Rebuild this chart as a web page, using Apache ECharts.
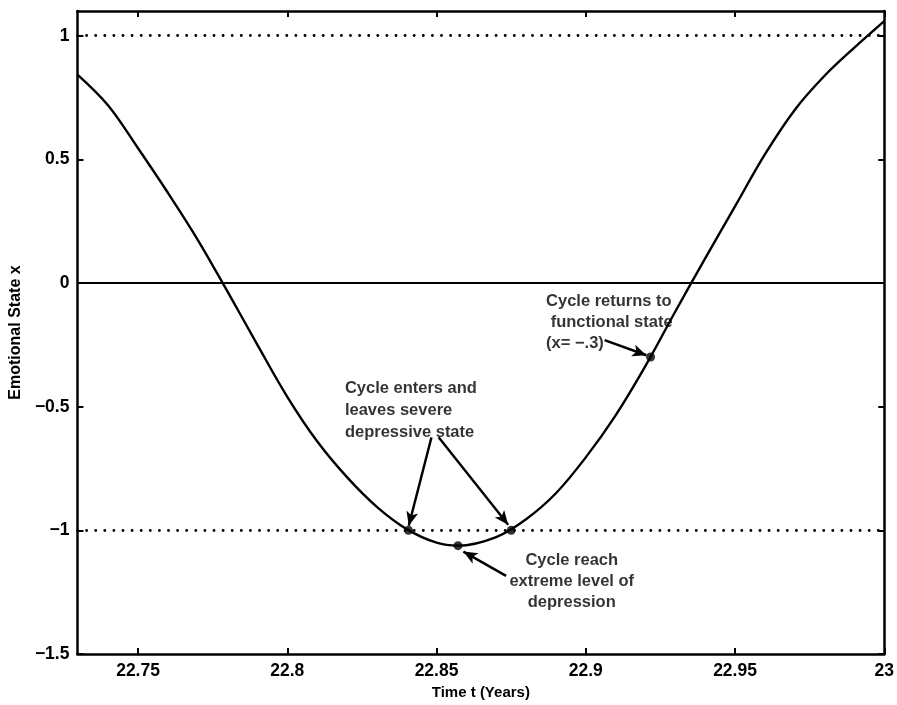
<!DOCTYPE html>
<html>
<head>
<meta charset="utf-8">
<script src="https://cdn.jsdelivr.net/npm/echarts@6/dist/echarts.min.js"></script>
<style>html,body{margin:0;padding:0;background:#fff;}#c{width:897px;height:705px;}</style>
</head>
<body>
<div id="c"></div>
<script>
// Time samples (years)
var timeValues = [22.7297, 22.74, 22.75, 22.76, 22.77, 22.78, 22.79, 22.80, 22.81, 22.82, 22.83, 22.84, 22.85, 22.8572, 22.87, 22.88, 22.89, 22.90, 22.91, 22.92, 22.93, 22.94, 22.95, 22.96, 22.97, 22.98, 22.99, 23.00];
// Emotional state x at those times
var stateValues = [0.843, 0.718, 0.545, 0.365, 0.175, -0.035, -0.250, -0.460, -0.640, -0.785, -0.905, -0.995, -1.050, -1.062, -1.027, -0.955, -0.850, -0.705, -0.535, -0.335, -0.115, 0.100, 0.310, 0.520, 0.700, 0.838, 0.952, 1.059];
// Marked points
var markTimes = [22.8406, 22.8572, 22.8750, 22.9217];
var markStates = [-1.0, -1.062, -1.0, -0.299];
// Tick labels
var xTicks = [22.75, 22.8, 22.85, 22.9, 22.95, 23];
var yTicks = [-1.5, -1, -0.5, 0, 0.5, 1];
// Reference levels
var dottedLevels = [1, -1];
var solidLevels = [0];
// Annotation texts [time, state, text, align]
var annotations = [
  [22.8193, -0.381, 'Cycle enters and\nleaves severe\ndepressive state', 'left'],
  [22.8953, -1.080, 'Cycle reach\nextreme level of\ndepression', 'center'],
  [22.8867, -0.030, 'Cycle returns to\n functional state\n(x= \u2212.3)', 'left']
];
var annotLineHeights = [22, 21, 21];
// Arrows [fromTime, fromState, toTime, toState]
var arrows = [
  [22.8483, -0.624, 22.8407, -0.981],
  [22.8507, -0.624, 22.8740, -0.977],
  [22.8733, -1.184, 22.8590, -1.086],
  [22.9063, -0.231, 22.9203, -0.292]
];

var FONT = 'Liberation Sans, Arial, Helvetica, sans-serif';
function fmt(v) { return String(+(+v).toFixed(2)).replace('-', '\u2212'); }

var curve = timeValues.map(function (t, i) { return [t, stateValues[i]]; });
var marks = markTimes.map(function (t, i) { return [t, markStates[i]]; });

var markLineData = [];
dottedLevels.forEach(function (v) {
  markLineData.push({ yAxis: v, lineStyle: { type: [0.1, 9], cap: 'round', width: 2.8, color: '#000' } });
});
solidLevels.forEach(function (v) {
  markLineData.push({ yAxis: v, lineStyle: { type: 'solid', width: 2.2, color: '#000' } });
});

var arrowData = arrows.map(function (a) {
  return [{ coord: [a[0], a[1]], symbol: 'none' }, { coord: [a[2], a[3]], symbol: 'arrow', symbolSize: [9, 14] }];
});

var annotSeries = annotations.map(function (a, i) {
  return {
    type: 'scatter', symbolSize: 0, silent: true, z: 10,
    data: [[a[0], a[1]]],
    label: {
      show: true, position: [0, 0], align: a[3], verticalAlign: 'top',
      formatter: a[2], color: '#000', fontFamily: FONT, fontSize: 16.5, fontWeight: 'bold',
      lineHeight: annotLineHeights[i]
    }
  };
});

var commonX = { type: 'value', min: 22.7297, max: 23, scale: true, splitLine: { show: false } };
var commonY = { type: 'value', min: -1.5, max: 1.1, splitLine: { show: false } };
var tickStyle = { color: '#000', width: 2 };
var axisLineStyle = { color: '#000', width: 2.5 };

var option = {
  animation: false,
  backgroundColor: '#fff',
  grid: { left: 74, right: 12, top: 11, bottom: 51, show: false },
  xAxis: [
    Object.assign({}, commonX, {
      position: 'bottom',
      name: 'Time t (Years)', nameLocation: 'middle', nameGap: 28,
      nameTextStyle: { color: '#000', fontFamily: FONT, fontSize: 15, fontWeight: 'bold' },
      axisLine: { show: true, onZero: false, lineStyle: axisLineStyle },
      axisTick: { show: true, inside: true, length: 6, lineStyle: tickStyle, customValues: xTicks },
      axisLabel: { show: true, color: '#000', fontFamily: FONT, fontSize: 17.5, fontWeight: 'bold', margin: 8, customValues: xTicks, formatter: fmt }
    }),
    Object.assign({}, commonX, {
      position: 'top',
      axisLine: { show: true, onZero: false, lineStyle: axisLineStyle },
      axisTick: { show: true, inside: true, length: 6, lineStyle: tickStyle, customValues: xTicks },
      axisLabel: { show: false }
    })
  ],
  yAxis: [
    Object.assign({}, commonY, {
      position: 'left',
      name: 'Emotional State x', nameLocation: 'middle', nameGap: 40,
      nameTextStyle: { color: '#000', fontFamily: FONT, fontSize: 16, fontWeight: 'bold' },
      axisLine: { show: true, onZero: false, lineStyle: axisLineStyle },
      axisTick: { show: true, inside: true, length: 6, lineStyle: tickStyle, customValues: yTicks },
      axisLabel: { show: true, color: '#000', fontFamily: FONT, fontSize: 17.5, fontWeight: 'bold', margin: 8, customValues: yTicks, formatter: fmt }
    }),
    Object.assign({}, commonY, {
      position: 'right',
      axisLine: { show: true, onZero: false, lineStyle: axisLineStyle },
      axisTick: { show: true, inside: true, length: 6, lineStyle: tickStyle, customValues: yTicks },
      axisLabel: { show: false }
    })
  ],
  series: [
    {
      type: 'line', data: curve, smooth: 0.35, showSymbol: false, silent: true,
      lineStyle: { color: '#000', width: 2.4 },
      markLine: { silent: true, symbol: 'none', label: { show: false }, data: markLineData, z: 1 }
    },
    {
      type: 'line', data: [], silent: true,
      markLine: {
        silent: true, label: { show: false },
        lineStyle: { color: '#000', width: 2.4, type: 'solid' },
        itemStyle: { color: '#000' },
        data: arrowData
      }
    },
    {
      type: 'scatter', data: marks, symbol: 'circle', symbolSize: 9, silent: true, z: 5,
      itemStyle: { color: '#000' }
    }
  ].concat(annotSeries)
};

var chart = echarts.init(document.getElementById('c'), null, { renderer: 'canvas' });
chart.setOption(option);
</script>
</body>
</html>
